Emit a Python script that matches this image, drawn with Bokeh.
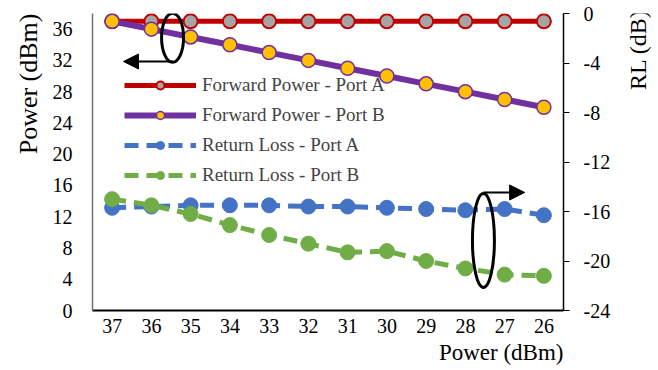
import math
from bokeh.plotting import figure
from bokeh.layouts import row
from bokeh.models import (Range1d, LinearAxis, FixedTicker, Legend, LegendItem,
                          Title, Arrow, NormalHead, Label)
from bokeh.embed import file_html
from bokeh.resources import INLINE

# ---- data ----
x_labels = ["37", "36", "35", "34", "33", "32", "31", "30", "29", "28", "27", "26"]
fwd_a = [37, 37, 37, 37, 37, 37, 37, 37, 37, 37, 37, 37]
fwd_b = [37, 36, 35, 34, 33, 32, 31, 30, 29, 28, 27, 26]
rl_a = [-15.7, -15.6, -15.5, -15.5, -15.5, -15.6, -15.6, -15.7, -15.8, -15.9, -15.8, -16.3]
rl_b = [-15.0, -15.5, -16.2, -17.1, -17.9, -18.6, -19.3, -19.2, -20.0, -20.6, -21.1, -21.2]
left_ticks = [0, 4, 8, 12, 16, 20, 24, 28, 32, 36]
right_ticks = [0, -4, -8, -12, -16, -20, -24]
series_names = ["Forward Power - Port A", "Forward Power - Port B",
                "Return Loss - Port A", "Return Loss - Port B"]
x_title = "Power (dBm)"
y_title = "Power (dBm)"
y2_title = "RL (dB)"

xs = list(range(len(x_labels)))
FONT = "Liberation Serif"
MAIN_W = 620
SIDE_W = 38
H = 370

p = figure(width=MAIN_W, height=H, output_backend="svg", toolbar_location=None,
           x_range=Range1d(-0.5, 11.5), y_range=Range1d(0, 38),
           min_border_left=92, min_border_right=MAIN_W - 563, min_border_top=13,
           min_border_bottom=60)
p.extra_y_ranges = {"rl": Range1d(-24, 0)}
p.outline_line_color = None
p.xgrid.visible = False
p.ygrid.visible = False
p.background_fill_color = "white"

# x axis
xa = p.xaxis[0]
xa.ticker = FixedTicker(ticks=xs)
xa.major_label_overrides = {i: lab for i, lab in zip(xs, x_labels)}
xa.major_tick_out = 0
xa.major_tick_in = 0
xa.minor_tick_out = 0
xa.minor_tick_in = 0
xa.axis_line_color = "black"
xa.axis_line_width = 2
xa.major_label_standoff = 8
xa.major_label_text_font = FONT
xa.major_label_text_font_size = "20px"
xa.major_label_text_color = "black"

# left axis
ya = p.yaxis[0]
ya.ticker = FixedTicker(ticks=left_ticks)
ya.major_tick_out = 0
ya.major_tick_in = 0
ya.minor_tick_out = 0
ya.minor_tick_in = 0
ya.axis_line_color = "#6f6f6f"
ya.axis_line_width = 1.5
ya.major_label_standoff = 20
ya.major_label_text_font = FONT
ya.major_label_text_font_size = "20px"
ya.major_label_text_color = "black"

# right axis
ra = LinearAxis(y_range_name="rl", ticker=FixedTicker(ticks=right_ticks))
ra.major_label_overrides = {t: str(t) for t in right_ticks}
ra.major_tick_out = 6
ra.major_tick_in = 0
ra.major_tick_line_color = "black"
ra.minor_tick_out = 0
ra.minor_tick_in = 0
ra.axis_line_color = "black"
ra.axis_line_width = 1.5
ra.major_label_standoff = 14
ra.major_label_text_font = FONT
ra.major_label_text_font_size = "20px"
ra.major_label_text_color = "black"
p.add_layout(ra, "right")

# series
l1 = p.line(xs, fwd_a, line_color="#C00000", line_width=5)
s1 = p.scatter(xs, fwd_a, size=14, fill_color="#A5A5A5", line_color="#C00000", line_width=2)
l2 = p.line(xs, fwd_b, line_color="#7030A0", line_width=6)
s2 = p.scatter(xs, fwd_b, size=14, fill_color="#FFC000", line_color="#7030A0", line_width=1.5)
l3 = p.line(xs, rl_a, y_range_name="rl", line_color="#4472C4", line_width=5, line_dash="14 8")
s3 = p.scatter(xs, rl_a, y_range_name="rl", size=15, fill_color="#4472C4", line_color="#4472C4")
l4 = p.line(xs, rl_b, y_range_name="rl", line_color="#70AD47", line_width=5, line_dash="14 8")
s4 = p.scatter(xs, rl_b, y_range_name="rl", size=15, fill_color="#70AD47", line_color="#70AD47")

legend = Legend(items=[LegendItem(label=series_names[0], renderers=[l1, s1]),
                       LegendItem(label=series_names[1], renderers=[l2, s2]),
                       LegendItem(label=series_names[2], renderers=[l3, s3]),
                       LegendItem(label=series_names[3], renderers=[l4, s4])],
                location=(32, 124), border_line_alpha=0, background_fill_alpha=0,
                label_text_font=FONT, label_text_font_size="19px",
                glyph_width=72, glyph_height=20, label_height=20, spacing=8,
                padding=0, margin=0, label_standoff=6)
p.add_layout(legend, "center")

# ellipse + arrow annotations
p.ellipse(x=[1.54], y=[34.9], width=0.56, height=6.27, fill_alpha=0,
          line_color="black", line_width=3)
p.add_layout(Arrow(x_start=1.54, y_start=31.86, x_end=0.29, y_end=31.86,
                   line_width=2, line_color="black",
                   end=NormalHead(size=15, fill_color="black", line_color="black")))
p.ellipse(x=[9.46], y=[8.96], width=0.56, height=12.03, fill_alpha=0,
          line_color="black", line_width=3)
p.add_layout(Arrow(x_start=9.46, y_start=15.1, x_end=10.51, y_end=15.1,
                   line_width=2, line_color="black",
                   end=NormalHead(size=15, fill_color="black", line_color="black")))

# axis titles
p.add_layout(Title(text=y_title, align="right", standoff=14,
                   text_font=FONT, text_font_size="26px",
                   text_font_style="normal", text_color="black"), "left")
p.add_layout(Title(text=x_title, align="right", standoff=4,
                   text_font=FONT, text_font_size="23px",
                   text_font_style="normal", text_color="black"), "below")

# narrow side strip carrying the right-hand axis title (reads bottom-to-top)
side = figure(width=SIDE_W, height=H, output_backend="svg", toolbar_location=None,
              x_range=Range1d(0, SIDE_W), y_range=Range1d(0, H),
              x_axis_location=None, y_axis_location=None,
              min_border_left=0, min_border_right=0, min_border_top=0, min_border_bottom=0)
side.outline_line_color = None
side.xgrid.visible = False
side.ygrid.visible = False
side.add_layout(Label(x=17, y=H - 45, text=y2_title, angle=math.pi / 2,
                      text_align="center", text_baseline="middle",
                      text_font=FONT, text_font_size="24px", text_color="black"))

layout = row(p, side, spacing=0)
open("out.html", "w").write(file_html(layout, INLINE))
